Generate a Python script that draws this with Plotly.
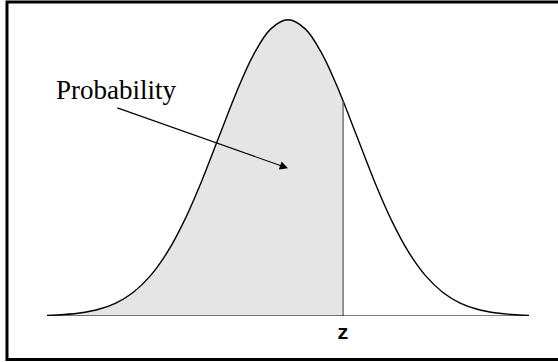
import plotly.graph_objects as go

# density curve (standard normal shape)
x_vals = [-3.5, -3.25, -3.0, -2.75, -2.5, -2.25, -2.0, -1.75, -1.5, -1.25, -1.0, -0.75, -0.5, -0.25,
          0.0, 0.25, 0.5, 0.75, 1.0, 1.25, 1.5, 1.75, 2.0, 2.25, 2.5, 2.75, 3.0, 3.25, 3.5]
density = [0.0009, 0.0020, 0.0044, 0.0091, 0.0175, 0.0317, 0.0540, 0.0863, 0.1295, 0.1826, 0.2420, 0.3011, 0.3521, 0.3867,
           0.3989, 0.3867, 0.3521, 0.3011, 0.2420, 0.1826, 0.1295, 0.0863, 0.0540, 0.0317, 0.0175, 0.0091, 0.0044, 0.0020, 0.0009]

z_value = 0.8
z_density = 0.2897
z_label = "z"
area_label = "Probability"

# shaded part: everything left of z
shade_x = [x for x in x_vals if x < z_value] + [z_value]
shade_y = [d for x, d in zip(x_vals, density) if x < z_value] + [z_density]

fig = go.Figure()

fig.add_trace(go.Scatter(
    x=shade_x, y=shade_y, mode="lines", fill="tozeroy",
    fillcolor="#e5e5e5", line=dict(width=0, shape="spline"),
    hoverinfo="skip",
))
fig.add_trace(go.Scatter(
    x=x_vals, y=density, mode="lines",
    line=dict(color="black", width=1.4, shape="spline"),
))
fig.add_trace(go.Scatter(
    x=[z_value, z_value], y=[0, z_density], mode="lines",
    line=dict(color="#555555", width=1.2),
))

fig.add_annotation(
    x=-2.5, y=0.304, text=area_label, showarrow=False,
    font=dict(family="Liberation Serif", size=27, color="black"),
)
fig.add_annotation(
    x=0.0, y=0.199, ax=-2.5, ay=0.281, axref="x", ayref="y",
    text="", showarrow=True, arrowhead=2, arrowsize=1.5, arrowwidth=1.1, arrowcolor="black",
)
# label under the z line (paper y so it is not hidden below the axis range)
fig.add_annotation(
    x=z_value, xref="x", y=-0.06, yref="paper", yanchor="middle", xanchor="center",
    text="<b>" + z_label + "</b>", showarrow=False,
    font=dict(family="Liberation Mono", size=20, color="black"),
)

# frame around the figure
fig.add_shape(
    type="rect", xref="paper", yref="paper",
    x0=-0.083, x1=1.2, y0=-0.1465, y1=1.0572,
    line=dict(color="black", width=3),
)
fig.add_shape(type="line", xref="x", yref="y", x0=x_vals[0], x1=x_vals[-1], y0=0, y1=0,
              line=dict(color="black", width=1.2))

fig.update_layout(
    width=558, height=362,
    margin=dict(l=47, r=29, t=19, b=46),
    plot_bgcolor="white", paper_bgcolor="white",
    showlegend=False,
    xaxis=dict(range=[-3.5, 3.5], showgrid=False, zeroline=False, showticklabels=False,
               ticks="", showline=False),
    yaxis=dict(range=[0, 0.4], showgrid=False, zeroline=False, showticklabels=False,
               ticks="", showline=False),
)

fig.write_html("out.html", config={"displayModeBar": False},
               post_script="document.body.style.margin='0';document.body.style.overflow='hidden';")
